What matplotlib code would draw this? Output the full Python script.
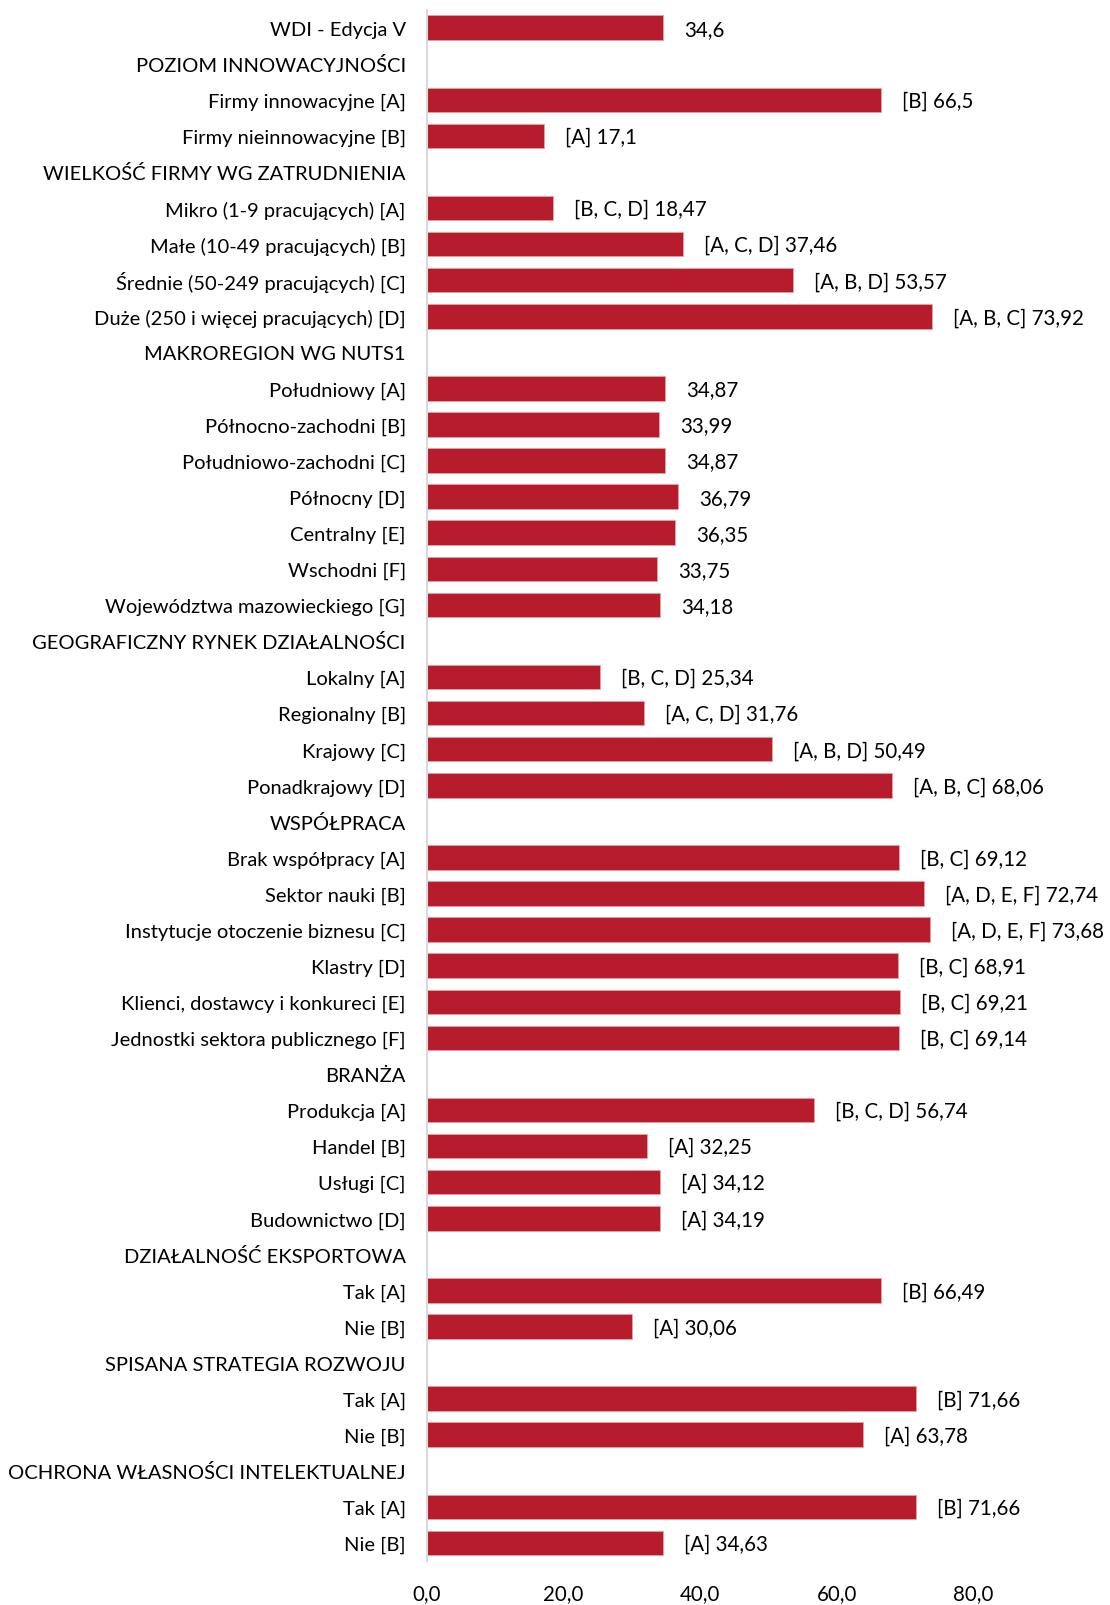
import matplotlib
matplotlib.use("Agg")
import matplotlib.pyplot as plt

plt.rcParams['font.family'] = ['Lato', 'DejaVu Sans']

categories = [
    "WDI - Edycja V",
    "POZIOM INNOWACYJNOŚCI",
    "Firmy innowacyjne [A]",
    "Firmy nieinnowacyjne [B]",
    "WIELKOŚĆ FIRMY WG ZATRUDNIENIA",
    "Mikro (1-9 pracujących) [A]",
    "Małe (10-49 pracujących) [B]",
    "Średnie (50-249 pracujących) [C]",
    "Duże (250 i więcej pracujących) [D]",
    "MAKROREGION WG NUTS1",
    "Południowy [A]",
    "Północno-zachodni [B]",
    "Południowo-zachodni [C]",
    "Północny [D]",
    "Centralny [E]",
    "Wschodni [F]",
    "Województwa mazowieckiego [G]",
    "GEOGRAFICZNY RYNEK DZIAŁALNOŚCI",
    "Lokalny [A]",
    "Regionalny [B]",
    "Krajowy [C]",
    "Ponadkrajowy [D]",
    "WSPÓŁPRACA",
    "Brak współpracy [A]",
    "Sektor nauki [B]",
    "Instytucje otoczenie biznesu [C]",
    "Klastry [D]",
    "Klienci, dostawcy i konkureci [E]",
    "Jednostki sektora publicznego [F]",
    "BRANŻA",
    "Produkcja [A]",
    "Handel [B]",
    "Usługi [C]",
    "Budownictwo [D]",
    "DZIAŁALNOŚĆ EKSPORTOWA",
    "Tak [A]",
    "Nie [B]",
    "SPISANA STRATEGIA ROZWOJU",
    "Tak [A]",
    "Nie [B]",
    "OCHRONA WŁASNOŚCI INTELEKTUALNEJ",
    "Tak [A]",
    "Nie [B]",
]

values = [
    34.6, None, 66.5, 17.1,
    None, 18.47, 37.46, 53.57, 73.92,
    None, 34.87, 33.99, 34.87, 36.79, 36.35, 33.75, 34.18,
    None, 25.34, 31.76, 50.49, 68.06,
    None, 69.12, 72.74, 73.68, 68.91, 69.21, 69.14,
    None, 56.74, 32.25, 34.12, 34.19,
    None, 66.49, 30.06,
    None, 71.66, 63.78,
    None, 71.66, 34.63,
]

decimals = [1, 0, 1, 1] + [2] * 39

significance = [
    "", "", "[B]", "[A]",
    "", "[B, C, D]", "[A, C, D]", "[A, B, D]", "[A, B, C]",
    "", "", "", "", "", "", "", "",
    "", "[B, C, D]", "[A, C, D]", "[A, B, D]", "[A, B, C]",
    "", "[B, C]", "[A, D, E, F]", "[A, D, E, F]", "[B, C]", "[B, C]", "[B, C]",
    "", "[B, C, D]", "[A]", "[A]", "[A]",
    "", "[B]", "[A]",
    "", "[B]", "[A]",
    "", "[B]", "[A]",
]

x_ticks = [0, 20, 40, 60, 80]

bar_color = "#B71C2C"
text_color = "#000000"

fig = plt.figure(figsize=(11.10, 16.06), dpi=100)
ax = fig.add_axes([0.3844, 0.0274, 0.6156, 0.9660])

rows = list(range(len(categories)))
for i, (v, d, sig) in enumerate(zip(values, decimals, significance)):
    if v is None:
        continue
    ax.barh(i, v, height=0.68, color=bar_color, edgecolor="#E6A0A6", linewidth=0.6)
    num = f"{v:.{d}f}".replace(".", ",")
    label = f"{sig} {num}" if sig else num
    ax.annotate(label, xy=(v, i), xytext=(21, -1), textcoords="offset pixels",
                ha="left", va="center", fontsize=14.8, color=text_color,
                annotation_clip=False)

ax.set_xlim(0, 100)
ax.set_ylim(len(categories) - 0.5, -0.5)
ax.set_yticks(rows)
ax.set_yticklabels(categories, fontsize=14.5, color=text_color)
ax.set_xticks(x_ticks)
ax.set_xticklabels([f"{t:.1f}".replace(".", ",") for t in x_ticks], fontsize=14.8, color=text_color)
ax.tick_params(axis="both", length=0)
ax.tick_params(axis="y", pad=15)
ax.tick_params(axis="x", pad=16)

for side in ("top", "right", "bottom"):
    ax.spines[side].set_visible(False)
ax.spines["left"].set_color("#D9D9D9")
ax.spines["left"].set_linewidth(1.5)

fig.savefig("out.png", dpi=100)
